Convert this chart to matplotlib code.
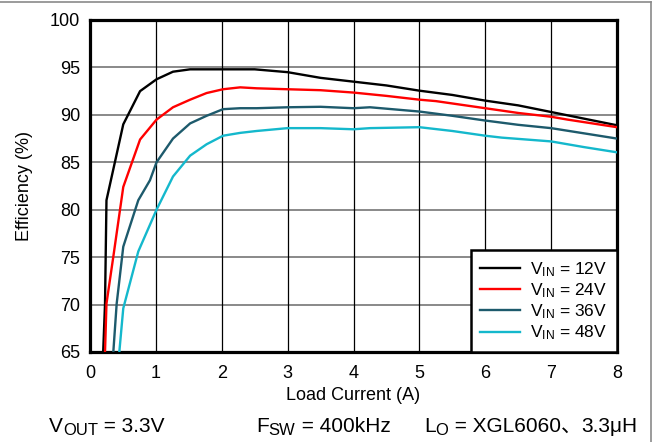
import matplotlib
matplotlib.use("Agg")
import matplotlib.pyplot as plt
from matplotlib.lines import Line2D
from matplotlib.transforms import offset_copy

plt.rcParams['font.family'] = ['Liberation Sans', 'DejaVu Sans']
plt.rcParams['mathtext.fontset'] = 'custom'
plt.rcParams['mathtext.rm'] = 'Liberation Sans'
plt.rcParams['mathtext.it'] = 'Liberation Sans:italic'

# Efficiency vs load current for four input voltages
i_12v = [0.20, 0.228, 0.25, 0.505, 0.76, 1.01, 1.26, 1.52, 2.0, 2.5, 3.0, 3.5, 4.0, 4.5, 5.0, 5.5, 6.0, 6.5, 7.0, 7.5, 8.0]
eff_12v = [65.0, 70.1, 81.0, 89.0, 92.5, 93.75, 94.55, 94.8, 94.8, 94.8, 94.5, 93.9, 93.5, 93.1, 92.55, 92.1, 91.5, 91.0, 90.3, 89.6, 88.9]

i_24v = [0.228, 0.25, 0.354, 0.505, 0.76, 1.01, 1.26, 1.52, 1.77, 2.02, 2.28, 2.53, 3.0, 3.5, 4.0, 4.5, 5.0, 5.25, 6.0, 6.5, 7.0, 7.25, 8.0]
eff_24v = [65.0, 70.1, 75.05, 82.4, 87.4, 89.5, 90.8, 91.6, 92.3, 92.7, 92.9, 92.8, 92.7, 92.6, 92.35, 92.0, 91.6, 91.45, 90.7, 90.2, 89.8, 89.5, 88.7]

i_36v = [0.354, 0.405, 0.505, 0.733, 0.91, 1.01, 1.26, 1.52, 1.77, 2.02, 2.28, 2.53, 3.0, 3.5, 4.0, 4.25, 5.0, 5.5, 6.0, 6.5, 7.0, 7.5, 8.0]
eff_36v = [65.0, 70.1, 76.1, 81.0, 83.1, 85.0, 87.5, 89.1, 89.9, 90.6, 90.7, 90.7, 90.8, 90.85, 90.7, 90.8, 90.35, 89.9, 89.4, 88.95, 88.6, 88.05, 87.5]

i_48v = [0.445, 0.505, 0.733, 1.01, 1.26, 1.52, 1.77, 2.02, 2.28, 2.53, 3.0, 3.5, 4.0, 4.25, 5.0, 5.5, 6.0, 6.25, 7.0, 7.5, 8.0]
eff_48v = [65.0, 69.6, 75.6, 80.0, 83.5, 85.7, 86.9, 87.8, 88.1, 88.3, 88.6, 88.6, 88.48, 88.6, 88.7, 88.3, 87.8, 87.6, 87.2, 86.6, 86.05]

labels = [r'V$_\mathrm{IN}$ = 12V', r'V$_\mathrm{IN}$ = 24V',
          r'V$_\mathrm{IN}$ = 36V', r'V$_\mathrm{IN}$ = 48V']
colors = ['#000000', '#ff0000', '#1d5a6c', '#14b8cc']

x_ticks = [0, 1, 2, 3, 4, 5, 6, 7, 8]
y_ticks = [65, 70, 75, 80, 85, 90, 95, 100]

fig = plt.figure(figsize=(6.54, 4.42), dpi=100)
ax = fig.add_axes([90 / 654, 1 - 352 / 442, 527 / 654, 332 / 442])

series = [(i_12v, eff_12v), (i_24v, eff_24v), (i_36v, eff_36v), (i_48v, eff_48v)]
for (x, y), c, lab in zip(series, colors, labels):
    ax.plot(x, y, color=c, lw=1.7, label=lab, zorder=3)

ax.set_xlim(0, 8)
ax.set_ylim(65, 100)
ax.set_xticks(x_ticks)
ax.set_yticks(y_ticks)
ax.tick_params(length=0, labelsize=13)
ax.tick_params(axis='x', pad=9)
ax.tick_params(axis='y', pad=7)

for yv in y_ticks[1:-1]:
    ax.axhline(yv, color='#808080', lw=1.3, zorder=1)
for xv in x_ticks[1:-1]:
    ax.axvline(xv, color='#000000', lw=0.9, zorder=1)

for s in ax.spines.values():
    s.set_linewidth(2.3)
    s.set_color('black')

ax.set_xlabel('Load Current (A)', fontsize=13, labelpad=4)
ax.set_ylabel('Efficiency (%)', fontsize=13)
ax.yaxis.set_label_coords(-(90 - 33) / 527, 0.5)

leg = ax.legend(loc='lower right', borderaxespad=0, fancybox=False,
                fontsize=12.5, handlelength=2.3, labelspacing=0.15,
                handletextpad=0.6, borderpad=0.55, framealpha=1)
leg.get_frame().set_edgecolor('black')
leg.get_frame().set_linewidth(1.8)


def text_run(x_px, base_px, pieces):
    """Draw text pieces left to right on a shared baseline (pixel coords)."""
    renderer = fig.canvas.get_renderer()
    x = x_px / fig.bbox.width
    y = 1 - base_px / fig.bbox.height
    for s, size, dy, fam in pieces:
        tr = offset_copy(fig.transFigure, fig=fig, y=dy, units='points')
        kw = {'family': fam} if fam else {}
        t = fig.text(x, y, s, fontsize=size, va='baseline', ha='left',
                     transform=tr, **kw)
        bb = t.get_window_extent(renderer=renderer)
        x = bb.x1 / fig.bbox.width


fig.canvas.draw()
cjk = ['Liberation Sans', 'Noto Sans CJK SC']
# Operating conditions along the bottom
text_run(49, 432, [('V', 15, 0, None), ('OUT', 12, -2.3, None), (' = 3.3V', 15, 0, None)])
text_run(256, 432, [('F', 15, 0, None), ('SW', 12, -2.3, None), (' = 400kHz', 15, 0, None)])
text_run(424, 432, [('L', 15, 0, None), ('O', 12, -2.3, None), (' = XGL6060', 15, 0, None),
                    ('、', 15, 0, cjk), ('3.3μH', 15, 0, None)])

# Thin frame along the top and right of the figure
fig.add_artist(Line2D([0, 651 / 654], [1 - 1.5 / 442] * 2, transform=fig.transFigure,
                      color='#8a8a8a', lw=1.2))
fig.add_artist(Line2D([651 / 654] * 2, [0, 1 - 1.5 / 442], transform=fig.transFigure,
                      color='#8a8a8a', lw=1.2))

fig.savefig('out.png', dpi=100)
